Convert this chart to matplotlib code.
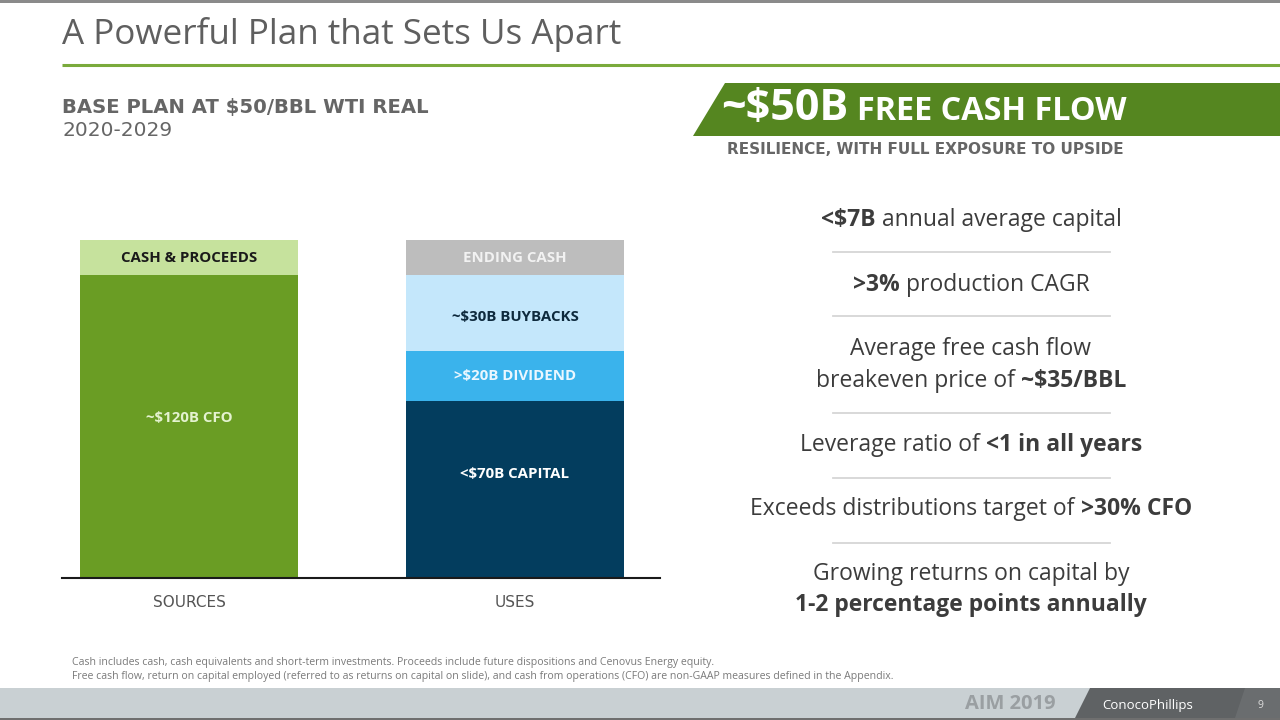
import matplotlib
matplotlib.use("Agg")
import matplotlib.pyplot as plt
from matplotlib.patches import Polygon, Rectangle
from matplotlib.offsetbox import TextArea, HPacker, AnnotationBbox

plt.rcParams['font.family'] = ['Open Sans', 'DejaVu Sans']

# stacked bar data ($B, 2020-2029)
bars = ['SOURCES', 'USES']
source_labels = ['~$120B CFO', 'CASH & PROCEEDS']
source_values = [120, 14]
use_labels = ['<$70B CAPITAL', '>$20B DIVIDEND', '~$30B BUYBACKS', 'ENDING CASH']
use_values = [70, 20, 30, 14]

source_colors = ['#6a9d24', '#c6e29d']
source_text = ['#e4f2cf', '#1a1a1a']
use_colors = ['#033d5e', '#3ab3ec', '#c4e7fb', '#bdbdbd']
use_text = ['#ffffff', '#eaf7ff', '#0e2a3d', '#f2f2f2']
# where the label sits inside each segment (fraction of its height)
source_pos = [0.53, 0.5]
use_pos = [0.59, 0.5, 0.45, 0.5]

# right-hand bullet points: (text, bold) pieces per line
points = [
    [[('<$7B', True), ('annual average capital', False)]],
    [[('>3%', True), ('production CAGR', False)]],
    [[('Average free cash flow', False)],
     [('breakeven price of', False), ('~$35/BBL', True)]],
    [[('Leverage ratio of', False), ('<1 in all years', True)]],
    [[('Exceeds distributions target of', False), ('>30% CFO', True)]],
    [[('Growing returns on capital by', False)],
     [('1-2 percentage points annually', True)]],
]
line_y = [[220], [285], [349, 381], [445], [509], [574, 605]]
sep_y = [252, 316, 413, 478, 543]

footnotes = [
    'Cash includes cash, cash equivalents and short-term investments. Proceeds include future dispositions and Cenovus Energy equity.',
    'Free cash flow, return on capital employed (referred to as returns on capital on slide), and cash from operations (CFO) are non-GAAP measures defined in the Appendix.',
]

W, H = 1280, 720
fig = plt.figure(figsize=(12.8, 7.2), dpi=100)

# overlay axes in pixel coordinates for the slide decoration
bg = fig.add_axes([0, 0, 1, 1])
bg.set_xlim(0, W)
bg.set_ylim(H, 0)
bg.axis('off')

gray = '#5f5f5f'
wide = ['DejaVu Sans']

bg.add_patch(Rectangle((0, 0), W, 2.5, color='#8a8a8a', lw=0))
bg.text(62, 35, 'A Powerful Plan that Sets Us Apart', fontsize=25.2, color=gray,
        va='center', ha='left')
bg.plot([62, W], [65, 65], color='#7aaa3c', lw=2.2, solid_capstyle='butt')

bg.text(62, 107, 'BASE PLAN AT $50/BBL WTI REAL', fontsize=14.1, fontweight='bold',
        color='#666666', va='center', family=wide)
bg.text(62, 131, '2020-2029', fontsize=14.5, color='#666666', va='center',
        family=wide)

# green banner
bg.add_patch(Polygon([[725, 83], [W, 83], [W, 136], [693, 136]], closed=True,
                     color='#558620', lw=0))
bg.text(721, 109, '~$50B', fontsize=31, fontweight='bold', color='white', va='center')
bg.text(857, 111, 'FREE CASH FLOW', fontsize=23.3, fontweight='bold', color='white',
        va='center')
bg.text(727, 150, 'RESILIENCE, WITH FULL EXPOSURE TO UPSIDE', fontsize=11,
        fontweight='bold', color='#666666', va='center', family=wide)

# bullet list
for lines, ys in zip(points, line_y):
    for pieces, y in zip(lines, ys):
        areas = [TextArea(t, textprops=dict(fontsize=16.5, color='#3c3c3c',
                                            fontweight='bold' if b else 'normal'))
                 for t, b in pieces]
        pack = HPacker(children=areas, pad=0, sep=4.5, align='baseline')
        ab = AnnotationBbox(pack, (971, y), xycoords='data', frameon=False,
                            box_alignment=(0.5, 0.5), pad=0)
        bg.add_artist(ab)
for y in sep_y:
    bg.plot([833, 1110], [y, y], color='#d6d6d6', lw=1.3)

# footnotes
for i, note in enumerate(footnotes):
    bg.text(72, 662 + i * 15, note, fontsize=7.55, color='#7a7a7a', va='center')

# footer band
bg.add_patch(Rectangle((0, 688), W, 30, color='#c9d0d3', lw=0))
bg.add_patch(Polygon([[1090, 688], [W, 688], [W, 718], [1075, 718]], closed=True,
                     color='#5f6264', lw=0))
bg.add_patch(Polygon([[1245, 688], [W, 688], [W, 718], [1235, 718]], closed=True,
                     color='#6a6d6f', lw=0))
bg.add_patch(Rectangle((0, 718), W, 2, color='#6f6f6f', lw=0))
bg.text(1010, 704, 'AIM 2019', fontsize=14.5, fontweight='bold', color='#9a9fa2',
        va='center', ha='center')
bg.text(1148, 705, 'ConocoPhillips', fontsize=9.5, color='white', va='center',
        ha='center')
bg.text(1260, 705, '9', fontsize=7.5, color='#dddddd', va='center', ha='center')

# chart axes
ax = fig.add_axes([62 / W, 1 - 578 / H, 598 / W, 338 / H])
x = [0, 1]
width = 0.67

bottom = 0
for v, c, lab, tc, p in zip(source_values, source_colors, source_labels,
                            source_text, source_pos):
    ax.bar(x[0], v, width, bottom=bottom, color=c, lw=0)
    ax.text(x[0], bottom + v * p, lab, ha='center', va='center', fontsize=10.8,
            fontweight='bold', color=tc)
    bottom += v

bottom = 0
for v, c, lab, tc, p in zip(use_values, use_colors, use_labels, use_text, use_pos):
    ax.bar(x[1], v, width, bottom=bottom, color=c, lw=0)
    ax.text(x[1], bottom + v * p, lab, ha='center', va='center', fontsize=10.8,
            fontweight='bold', color=tc)
    bottom += v

ax.set_xlim(-0.39, 1.445)
ax.set_ylim(0, 134)
ax.set_xticks(x)
ax.set_xticklabels(bars, fontsize=11, color='#555555', family=wide)
ax.tick_params(axis='x', length=0, pad=12)
ax.set_yticks([])
for side in ['top', 'right', 'left']:
    ax.spines[side].set_visible(False)
ax.spines['bottom'].set_color('#1a1a1a')
ax.spines['bottom'].set_linewidth(1.5)
ax.patch.set_alpha(0)

fig.savefig('out.png', dpi=100)
